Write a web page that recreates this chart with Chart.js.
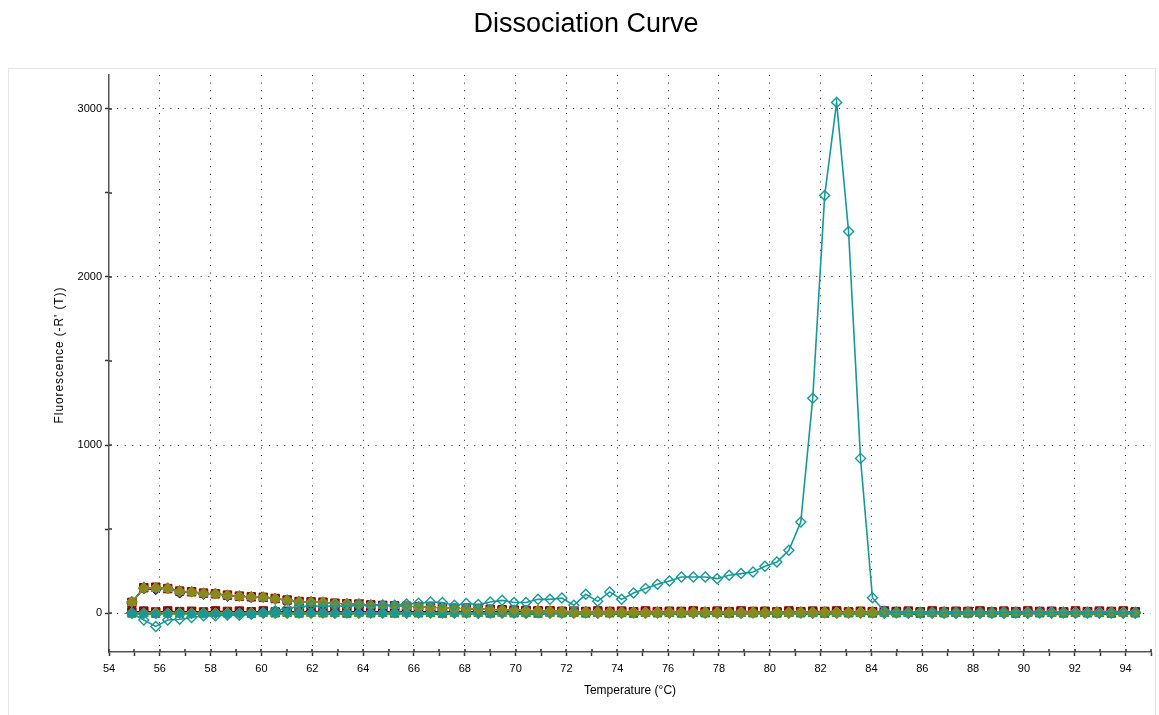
<!DOCTYPE html>
<html><head><meta charset="utf-8">
<script src="https://cdn.jsdelivr.net/npm/chart.js@4.4.1/dist/chart.umd.min.js"></script>
<style>html,body{margin:0;padding:0;background:#fff}canvas{display:block}</style>
</head><body>
<canvas id="c" width="1159" height="715"></canvas>
<script>
// ---- data ----
const temperatures = [
54.90,55.37,55.84,56.31,56.78,57.25,57.72,58.19,58.66,59.13,
59.60,60.07,60.54,61.01,61.48,61.95,62.42,62.89,63.36,63.83,
64.30,64.77,65.24,65.71,66.18,66.65,67.12,67.59,68.06,68.53,
69.00,69.47,69.94,70.41,70.88,71.35,71.82,72.29,72.76,73.23,
73.70,74.17,74.64,75.11,75.58,76.05,76.52,76.99,77.46,77.93,
78.40,78.87,79.34,79.81,80.28,80.75,81.22,81.69,82.16,82.63,
83.10,83.57,84.04,84.51,84.98,85.45,85.92,86.39,86.86,87.33,
87.80,88.27,88.74,89.21,89.68,90.15,90.62,91.09,91.56,92.03,
92.50,92.97,93.44,93.91,94.38];

const peakWell = [
0,-40,-78,-40,-35,-25,-15,-15,-10,-12,
-5,5,15,30,38,45,40,45,42,48,
45,50,48,55,60,67,64,48,58,52,
67,77,64,64,83,83,91,48,113,71,
127,83,121,147,173,192,216,216,216,206,
226,236,246,280,305,375,543,1278,2484,3037,
2270,921,93,12,6,4,3,5,2,4,
3,5,2,4,3,2,4,3,5,2,
3,4,2,3,2];

const upperRed = [
65,152,155,147,132,128,120,116,108,102,
98,95,88,79,70,68,66,60,57,55,
50,47,44,42,40,36,33,30,28,26,
23,21,19,17,15,13,12,11,10,9,
9,8,9,7,8,7,9,8,7,8,
6,7,8,6,7,6,8,7,9,7,
6,8,7,6,9,7,8,6,7,8,
7,6,8,7,9,7,6,8,7,6,
9,7,6,8,7];
const upperNavy = [
60,145,140,150,120,130,112,118,100,104,
92,96,84,80,66,70,62,61,54,56,
48,49,42,43,38,37,31,31,26,27,
22,21,18,17,14,14,11,11,9,10,
8,9,7,8,6,8,7,9,6,7,
8,6,7,9,6,7,8,6,7,8,
6,7,9,6,8,7,6,8,9,7,
6,8,7,6,8,7,9,6,7,8,
6,7,8,6,7];
const upperGreen = [
70,158,150,152,135,126,122,114,110,100,
100,94,90,78,72,66,68,59,58,54,
51,46,45,41,41,35,34,29,29,25,
24,20,20,16,16,12,13,10,11,8,
10,7,9,8,7,9,6,8,7,9,
7,8,6,9,7,8,6,7,8,6,
9,7,8,6,7,9,7,6,8,7,
8,6,9,7,6,8,7,9,6,7,
8,6,7,9,7];
const upperOlive = [
68,150,152,148,130,128,118,117,106,102,
97,96,86,78,68,67,65,59,57,56,
49,47,44,42,39,36,32,30,27,26,
23,20,19,16,15,13,12,10,10,9,
8,9,8,7,8,8,7,8,8,7,
7,8,7,7,8,7,8,7,8,7,
7,8,7,8,7,8,7,7,8,7,
8,7,7,8,7,8,7,8,7,8,
7,8,7,8,7];
const upperGray = [
62,148,146,144,128,124,116,113,106,98,
96,92,86,76,70,64,66,57,56,53,
48,45,43,40,38,34,32,28,27,24,
22,19,18,15,14,12,11,9,9,8,
7,8,6,7,8,6,7,8,6,7,
8,6,7,6,8,7,6,7,8,6,
7,8,6,7,6,8,7,6,7,8,
6,7,8,6,7,6,8,7,6,7,
8,6,7,6,8];

const lowerRed = [
9,13,8,14,10,12,8,14,11,13,
9,14,8,12,10,14,11,13,8,14,
10,12,11,14,8,13,10,14,11,12,
8,14,10,13,11,14,8,12,10,14,
11,13,8,14,10,12,11,14,8,13,
10,14,11,12,8,14,10,13,11,14,
8,12,10,14,11,13,8,14,10,12,
11,14,8,13,10,14,11,12,8,14,
10,13,11,14,8];
const lowerNavy = [
5,9,4,11,6,8,4,10,6,9,
4,11,5,8,6,10,4,9,5,11,
6,8,4,10,5,9,6,11,4,8,
5,10,6,9,4,11,5,8,6,10,
4,9,5,11,6,8,4,10,5,9,
6,11,4,8,5,10,6,9,4,11,
5,8,6,10,4,9,5,11,6,8,
4,10,5,9,6,11,4,8,5,10,
6,9,4,11,5];
const lowerGreen = [
-8,-4,-9,-3,-7,-4,-8,-3,-7,-5,
-9,-3,-7,-4,-8,-3,-7,-5,-9,-3,
-7,-4,-8,-3,-7,-5,-9,-3,-7,-4,
-8,-3,-7,-5,-9,-3,-7,-4,-8,-3,
-7,-5,-9,-3,-7,-4,-8,-3,-7,-5,
-9,-3,-7,-4,-8,-3,-7,-5,-9,-3,
-7,-4,-8,-3,-7,-5,-9,-3,-7,-4,
-8,-3,-7,-5,-9,-3,-7,-4,-8,-3,
-7,-5,-9,-3,-7];
const lowerOlive = [
2,1,3,0,2,1,3,1,2,0,
3,1,2,0,3,1,2,1,3,0,
2,1,3,0,2,1,3,1,2,0,
3,1,2,0,3,1,2,1,3,0,
2,1,3,0,2,1,3,1,2,0,
3,1,2,0,3,1,2,1,3,0,
2,1,3,0,2,1,3,1,2,0,
3,1,2,0,3,1,2,1,3,0,
2,1,3,0,2];
const lowerGray = [
1,0,2,-1,1,0,2,-1,1,0,
2,-1,1,0,2,-1,1,0,2,-1,
1,0,2,-1,1,0,2,-1,1,0,
2,-1,1,0,2,-1,1,0,2,-1,
1,0,2,-1,1,0,2,-1,1,0,
2,-1,1,0,2,-1,1,0,2,-1,
1,0,2,-1,1,0,2,-1,1,0,
2,-1,1,0,2,-1,1,0,2,-1,
1,0,2,-1,1];
const lowerTeal = [
1,-2,-4,-2,0,-1,1,-1,0,1,
-1,1,0,2,0,1,2,0,1,2,
0,1,2,0,1,2,0,1,2,1,
0,2,1,0,2,1,0,2,1,0,
2,1,0,2,1,0,2,1,0,2,
1,0,2,1,0,2,1,0,2,1,
0,2,1,0,2,1,0,2,1,0,
2,1,0,2,1,0,2,1,0,2,
1,0,2,1,0];

const xTickValues = [54,55,56,57,58,59,60,61,62,63,64,65,66,67,68,69,70,71,72,73,74,75,76,77,78,79,80,81,82,83,84,85,86,87,88,89,90,91,92,93,94,95];
const xLabelValues = [54,56,58,60,62,64,66,68,70,72,74,76,78,80,82,84,86,88,90,92,94];
const yTickValues = [0,500,1000,1500,2000,2500,3000];
const yLabelValues = [0,1000,2000,3000];
const chartTitle = 'Dissociation Curve';
const xTitle = 'Temperature (°C)';
const yTitle = "Fluorescence (-R' (T))";

// ---- styling ----
const FONT = '"Liberation Sans", Arial, sans-serif';
const RED = '#990000', NAVY = '#1a1a8a', GREEN = '#1a8a1a', OLIVE = '#8a8a1c', GRAY = '#8c8c8c', TEAL = '#189898';

function pts(vals){ return vals.map((v,i)=>({x: temperatures[i], y: v})); }
function ds(vals, color, style, radius, fill, width, pbw){
  return {
    data: pts(vals), showLine: true,
    borderColor: color, borderWidth: width || 1,
    backgroundColor: fill,
    pointStyle: style, pointRadius: radius,
    pointBorderColor: color, pointBackgroundColor: fill,
    pointBorderWidth: pbw || 1, pointHoverRadius: radius
  };
}

const datasets = [
  ds(peakWell, TEAL, 'rectRot', 5, 'rgba(255,255,255,0)', 1.6, 1.4),
  ds(upperOlive, OLIVE, 'rectRot', 5.5, OLIVE),
  ds(lowerTeal, TEAL, 'rectRot', 5, TEAL),
  ds(lowerOlive, OLIVE, 'rectRot', 5.5, OLIVE),
  ds(upperGray, GRAY, 'triangle', 5, GRAY),
  ds(lowerGray, GRAY, 'triangle', 5, GRAY),
  ds(upperGreen, GREEN, 'triangle', 5, GREEN),
  ds(lowerGreen, GREEN, 'triangle', 5, GREEN),
  ds(upperNavy, NAVY, 'rectRot', 5, NAVY),
  ds(lowerNavy, NAVY, 'rectRot', 5, NAVY),
  ds(upperRed, RED, 'rect', 6, RED),
  ds(lowerRed, RED, 'rect', 6, RED)
];

const decorations = {
  id: 'decorations',
  beforeDraw(chart){
    const ctx = chart.ctx;
    ctx.save();
    ctx.fillStyle = '#ffffff';
    ctx.fillRect(0,0,chart.width,chart.height);
    ctx.strokeStyle = '#e4e4e4';
    ctx.lineWidth = 1;
    ctx.strokeRect(8.5, 68.5, 1147, 660);
    ctx.restore();
  },
  afterDraw(chart){
    const ctx = chart.ctx;
    const xs = chart.scales.x, ys = chart.scales.y;
    ctx.save();
    // inner halves of tick marks (ticks cross the axis line)
    ctx.strokeStyle = '#333';
    ctx.lineWidth = 1.5;
    ctx.beginPath();
    xs.ticks.forEach(t => { const p = Math.round(xs.getPixelForValue(t.value)); ctx.moveTo(p, xs.top); ctx.lineTo(p, xs.top - 3); });
    ys.ticks.forEach(t => { const p = Math.round(ys.getPixelForValue(t.value)); ctx.moveTo(ys.right, p); ctx.lineTo(ys.right + 3, p); });
    ctx.stroke();
    // chart title
    ctx.fillStyle = '#000';
    ctx.textAlign = 'center';
    ctx.textBaseline = 'middle';
    ctx.font = '27px ' + FONT;
    ctx.fillText(chartTitle, 586, 25);
    // y axis title
    ctx.translate(60, 355);
    ctx.rotate(-Math.PI / 2);
    ctx.font = '12px ' + FONT;
    try { ctx.letterSpacing = '0.9px'; } catch(e) {}
    ctx.fillText(yTitle, 0, 0);
    ctx.restore();
  }
};

new Chart(document.getElementById('c'), {
  type: 'scatter',
  data: { datasets },
  plugins: [decorations],
  options: {
    responsive: false, animation: false, devicePixelRatio: 1,
    layout: { padding: { left: 0, right: 8, top: 75, bottom: 0 } },
    plugins: { legend: { display: false }, tooltip: { enabled: false }, title: { display: false } },
    scales: {
      x: {
        type: 'linear', min: 54, max: 95,
        afterFit(s){ s.height = 63; },
        afterBuildTicks(s){ s.ticks = xTickValues.map(v => ({ value: v })); },
        ticks: { autoSkip: false, maxRotation: 0, color: '#000', padding: 6,
          font: { family: FONT, size: 11 },
          callback: v => xLabelValues.includes(v) ? String(v) : '' },
        grid: { color: c => (c.tick && xLabelValues.includes(c.tick.value) && c.tick.value !== 54) ? '#222' : 'rgba(0,0,0,0)',
          tickColor: '#333', tickLength: 4, lineWidth: 1, tickWidth: 1.5 },
        border: { color: '#555', width: 1.5, dash: [1, 6.6] },
        title: { display: true, text: xTitle, color: '#000',
          font: { family: FONT, size: 12 }, padding: { top: 0, bottom: 17 } }
      },
      y: {
        type: 'linear', min: -230, max: 3200,
        afterFit(s){ s.width = 109; },
        afterBuildTicks(s){ s.ticks = yTickValues.map(v => ({ value: v })); },
        ticks: { color: '#000', padding: 3, font: { family: FONT, size: 11 },
          callback: v => yLabelValues.includes(v) ? String(v) : '' },
        grid: { color: c => (c.tick && yLabelValues.includes(c.tick.value)) ? '#222' : 'rgba(0,0,0,0)',
          tickColor: '#333', tickLength: 4, lineWidth: 1, tickWidth: 1.5 },
        border: { color: '#555', width: 1.5, dash: [1, 6.6] },
        title: { display: false }
      }
    }
  }
});
</script>
</body></html>
